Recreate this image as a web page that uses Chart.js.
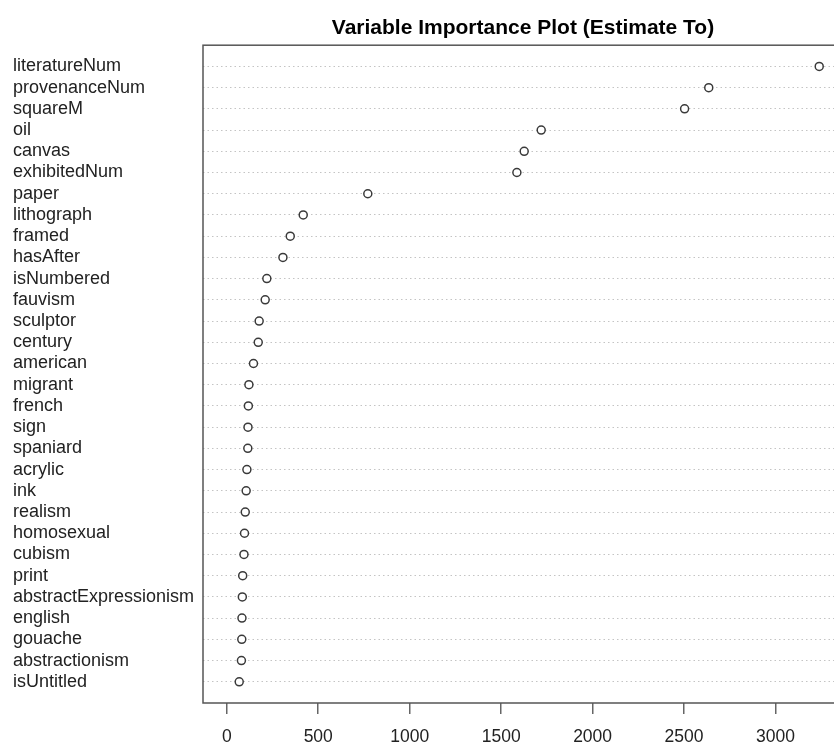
<!DOCTYPE html>
<html>
<head>
<meta charset="utf-8">
<script src="https://cdn.jsdelivr.net/npm/chart.js@4/dist/chart.umd.min.js"></script>
<style>
  html, body { margin: 0; padding: 0; background: #fff; overflow: hidden; }
  #wrap { width: 850px; height: 744px; }
</style>
</head>
<body>
<div id="wrap"><canvas id="chart-vip" width="850" height="744"></canvas></div>
<script>
// ── vip.js — Variable importance dot chart ───────────────────

const TITLE = "Variable Importance Plot (Estimate To)";

// top to bottom
const varNames = [
  "literatureNum", "provenanceNum", "squareM", "oil", "canvas", "exhibitedNum",
  "paper", "lithograph", "framed", "hasAfter", "isNumbered", "fauvism",
  "sculptor", "century", "american", "migrant", "french", "sign", "spaniard",
  "acrylic", "ink", "realism", "homosexual", "cubism", "print",
  "abstractExpressionism", "english", "gouache", "abstractionism", "isUntitled",
];
const importance = [
  3239, 2635, 2503, 1719, 1626, 1586,
  771, 418, 347, 307, 219, 210,
  177, 172, 146, 121, 118, 116, 115,
  110, 106, 101, 97, 94, 87,
  85, 83, 82, 80, 68,
];
const xTicks = [0, 500, 1000, 1500, 2000, 2500, 3000];

const FONT = "'Liberation Sans', Arial, Helvetica, sans-serif";

// plot frame (R style box round the plot region)
const framePlugin = {
  id: "frame",
  beforeDatasetsDraw(chart) {
    const { ctx, chartArea: a } = chart;
    ctx.save();
    ctx.strokeStyle = "#555";
    ctx.lineWidth = 1.5;
    ctx.strokeRect(a.left, a.top, a.right - a.left, a.bottom - a.top);
    ctx.restore();
  },
};

const points = importance.map((v, i) => ({ x: v, y: i }));

new Chart(document.getElementById("chart-vip"), {
  type: "scatter",
  data: {
    datasets: [
      {
        data: points,
        pointRadius: 4,
        pointBorderWidth: 1.5,
        borderColor: "#3a3a3a",
        backgroundColor: "#fff",
      },
    ],
  },
  options: {
    responsive: false,
    animation: false,
    events: [],
    layout: { padding: { left: 13, right: 7, top: 0, bottom: 0 } },
    plugins: {
      legend: { display: false },
      tooltip: { enabled: false },
      title: {
        display: true,
        text: TITLE,
        fullSize: false,
        color: "#000",
        font: { family: FONT, size: 21, weight: "bold" },
        padding: { top: 16, bottom: 4 },
      },
    },
    scales: {
      x: {
        type: "linear",
        min: -130,
        max: 3369,
        afterBuildTicks: s => { s.ticks = xTicks.map(v => ({ value: v })); },
        afterFit: s => { s.height = 41; },
        ticks: {
          callback: v => String(v),
          color: "#222",
          font: { family: FONT, size: 17.5 },
          padding: 13,
          maxRotation: 0,
        },
        grid: {
          drawOnChartArea: false,
          drawTicks: true,
          tickLength: 11,
          tickColor: "#666",
          lineWidth: 1.5,
        },
        border: { display: false },
      },
      y: {
        type: "linear",
        reverse: true,
        min: -1,
        max: 30,
        afterBuildTicks: s => { s.ticks = varNames.map((_, i) => ({ value: i })); },
        afterFit: s => { s.width = 190; },
        ticks: {
          callback: v => varNames[v],
          crossAlign: "far",
          color: "#222",
          font: { family: FONT, size: 18 },
          autoSkip: false,
          padding: 0,
        },
        grid: {
          drawTicks: false,
          color: "#c4c4c4",
          lineWidth: 1,
        },
        border: { display: false, dash: [1.5, 3] },
      },
    },
  },
  plugins: [framePlugin],
});
</script>
</body>
</html>
